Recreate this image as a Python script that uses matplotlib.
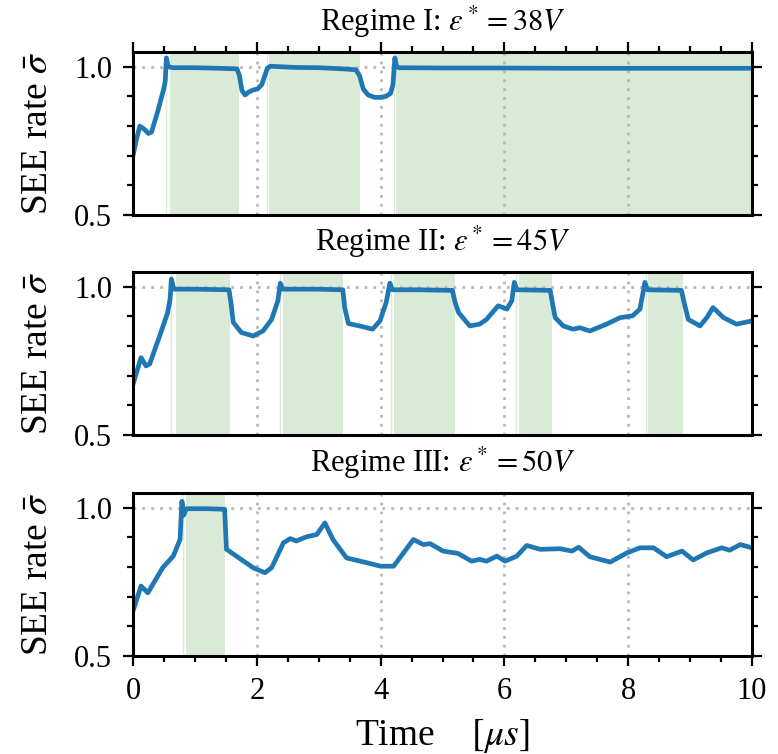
import matplotlib
matplotlib.use("Agg")
import matplotlib.pyplot as plt
from matplotlib.ticker import MultipleLocator, FormatStrFormatter

plt.rcParams['font.family'] = ['Liberation Serif', 'DejaVu Serif']
plt.rcParams['mathtext.fontset'] = 'stix'

# ---------------- data ----------------
titles = [r"Regime I: $\varepsilon^* = 38V$",
          r"Regime II: $\varepsilon^* = 45V$",
          r"Regime III: $\varepsilon^* = 50V$"]

t1 = [0.00, 0.05, 0.11, 0.18, 0.25, 0.30, 0.40, 0.49, 0.52, 0.54, 0.57, 0.65, 1.00, 1.40,
      1.68, 1.72, 1.76, 1.81, 1.87, 1.94, 2.01, 2.08, 2.13, 2.17, 2.22, 2.60, 3.00, 3.40,
      3.60, 3.66, 3.72, 3.80, 3.90, 4.00, 4.08, 4.16, 4.20, 4.23, 4.26, 4.30, 5.00, 6.00,
      7.00, 8.00, 9.00, 10.00]
s1 = [0.700, 0.750, 0.800, 0.790, 0.775, 0.780, 0.850, 0.920, 0.950, 1.030, 1.000, 0.997, 0.997, 0.995,
      0.993, 0.970, 0.920, 0.905, 0.915, 0.922, 0.925, 0.940, 0.970, 0.995, 1.002, 0.998, 0.997, 0.993,
      0.990, 0.970, 0.925, 0.905, 0.897, 0.897, 0.900, 0.910, 0.940, 1.030, 1.000, 0.997, 0.996, 0.996,
      0.995, 0.995, 0.995, 0.995]

t2 = [0.00, 0.13, 0.21, 0.27, 0.43, 0.56, 0.60, 0.62, 0.66, 1.00, 1.55, 1.58, 1.62, 1.75, 1.94,
      2.10, 2.24, 2.34, 2.38, 2.42, 3.00, 3.39, 3.42, 3.48, 3.66, 3.87, 3.99, 4.09, 4.15, 4.19,
      4.60, 5.16, 5.20, 5.26, 5.44, 5.60, 5.71, 5.90, 6.04, 6.12, 6.16, 6.20, 6.74, 6.78, 6.82,
      6.95, 7.11, 7.22, 7.38, 7.65, 7.87, 8.07, 8.19, 8.27, 8.31, 8.86, 8.90, 8.97, 9.16, 9.27,
      9.37, 9.54, 9.75, 10.00]
s2 = [0.671, 0.761, 0.733, 0.740, 0.834, 0.913, 0.960, 1.026, 0.992, 0.992, 0.990, 0.950, 0.880, 0.846, 0.834,
      0.851, 0.890, 0.953, 1.012, 0.992, 0.992, 0.990, 0.930, 0.876, 0.868, 0.857, 0.885, 0.947, 1.012, 0.990,
      0.990, 0.988, 0.950, 0.913, 0.868, 0.874, 0.890, 0.936, 0.925, 0.953, 1.015, 0.990, 0.988, 0.940, 0.896,
      0.868, 0.857, 0.862, 0.851, 0.874, 0.896, 0.902, 0.925, 1.015, 0.990, 0.988, 0.950, 0.890, 0.868, 0.896,
      0.930, 0.896, 0.874, 0.885]

t3 = [0.00, 0.13, 0.24, 0.48, 0.65, 0.76, 0.79, 0.82, 0.86, 1.20, 1.48, 1.51, 1.67, 1.94, 2.13,
      2.24, 2.43, 2.54, 2.64, 2.80, 2.97, 3.10, 3.23, 3.45, 3.77, 4.00, 4.21, 4.53, 4.69, 4.80,
      5.01, 5.25, 5.47, 5.60, 5.71, 5.88, 6.01, 6.20, 6.36, 6.58, 6.90, 7.09, 7.20, 7.38, 7.71,
      7.98, 8.19, 8.41, 8.62, 8.87, 9.05, 9.27, 9.51, 9.64, 9.81, 10.00]
s3 = [0.652, 0.736, 0.713, 0.798, 0.837, 0.893, 1.022, 0.975, 0.997, 0.997, 0.995, 0.860, 0.837, 0.798, 0.781,
      0.798, 0.882, 0.896, 0.888, 0.902, 0.910, 0.949, 0.893, 0.831, 0.815, 0.803, 0.803, 0.893, 0.876, 0.879,
      0.854, 0.846, 0.820, 0.826, 0.820, 0.837, 0.820, 0.837, 0.873, 0.860, 0.862, 0.854, 0.867, 0.835, 0.817,
      0.848, 0.865, 0.865, 0.835, 0.854, 0.824, 0.848, 0.865, 0.857, 0.876, 0.865]

# shaded (saturated) intervals: start, end
spans1 = [(0.60, 1.71), (2.20, 3.67), (4.25, 10.0)]
spans2 = [(0.69, 1.56), (2.42, 3.40), (4.22, 5.20), (6.24, 6.77), (8.32, 8.88)]
spans3 = [(0.86, 1.49)]
edges1 = [0.54, 2.17, 4.22]
edges2 = [0.62, 2.38, 4.17, 6.18, 8.28]
edges3 = [0.80]

xlabel = r"Time    $[\mu s]$"
ylabel = r"SEE rate $\bar{\sigma}$"

series = [(t1, s1, spans1, edges1), (t2, s2, spans2, edges2), (t3, s3, spans3, edges3)]

# ---------------- figure ----------------
fig = plt.figure(figsize=(7.78, 7.54), dpi=100)
W, H = 778, 754
left, right = 133, 752
tops = [52, 272, 493]
hgt = 163

green = '#d9ebd7'
for i, (t, s, spans, edges) in enumerate(series):
    ax = fig.add_axes([left / W, 1 - (tops[i] + hgt) / H, (right - left) / W, hgt / H])
    for a, b in spans:
        ax.axvspan(a, b, color=green, lw=0, zorder=0)
    for e in edges:
        ax.axvline(e, color=green, lw=1.0, zorder=0)
    ax.plot(t, s, color='#1f77b4', lw=3.4, zorder=3, solid_joinstyle='round',
            solid_capstyle='round')
    ax.set_xlim(0, 10)
    ax.set_ylim(0.5, 1.05)
    ax.xaxis.set_major_locator(MultipleLocator(2))
    ax.xaxis.set_minor_locator(MultipleLocator(0.5))
    ax.yaxis.set_major_locator(MultipleLocator(0.5))
    ax.yaxis.set_minor_locator(MultipleLocator(0.1))
    ax.grid(True, which='major', color='#b8b8b8', ls=(0, (1.0, 2.2)), lw=2.0, zorder=1)
    ax.set_axisbelow(False)
    for sp in ax.spines.values():
        sp.set_linewidth(2.2)
        sp.set_zorder(5)
    ax.tick_params(axis='both', which='major', direction='out', length=7, width=1.6,
                   labelsize=22, pad=8)
    ax.tick_params(axis='both', which='minor', direction='out', length=4.5, width=1.6)
    ax.tick_params(axis='y', which='both', left=True, right=True, labelright=False)
    ax.yaxis.set_major_formatter(FormatStrFormatter('%.1f'))
    if i == 0:
        ax.tick_params(axis='x', which='both', top=True, bottom=False,
                       labeltop=False, labelbottom=False)
    elif i == 1:
        ax.tick_params(axis='x', which='both', top=False, bottom=False,
                       labeltop=False, labelbottom=False)
    else:
        ax.tick_params(axis='x', which='both', top=False, bottom=True, labelbottom=True)
        ax.set_xlabel(xlabel, fontsize=27, labelpad=8)
    ax.set_title(titles[i], fontsize=22, pad=15)
    ax.set_ylabel(ylabel, fontsize=27, labelpad=14)

fig.savefig('out.png', dpi=100)
